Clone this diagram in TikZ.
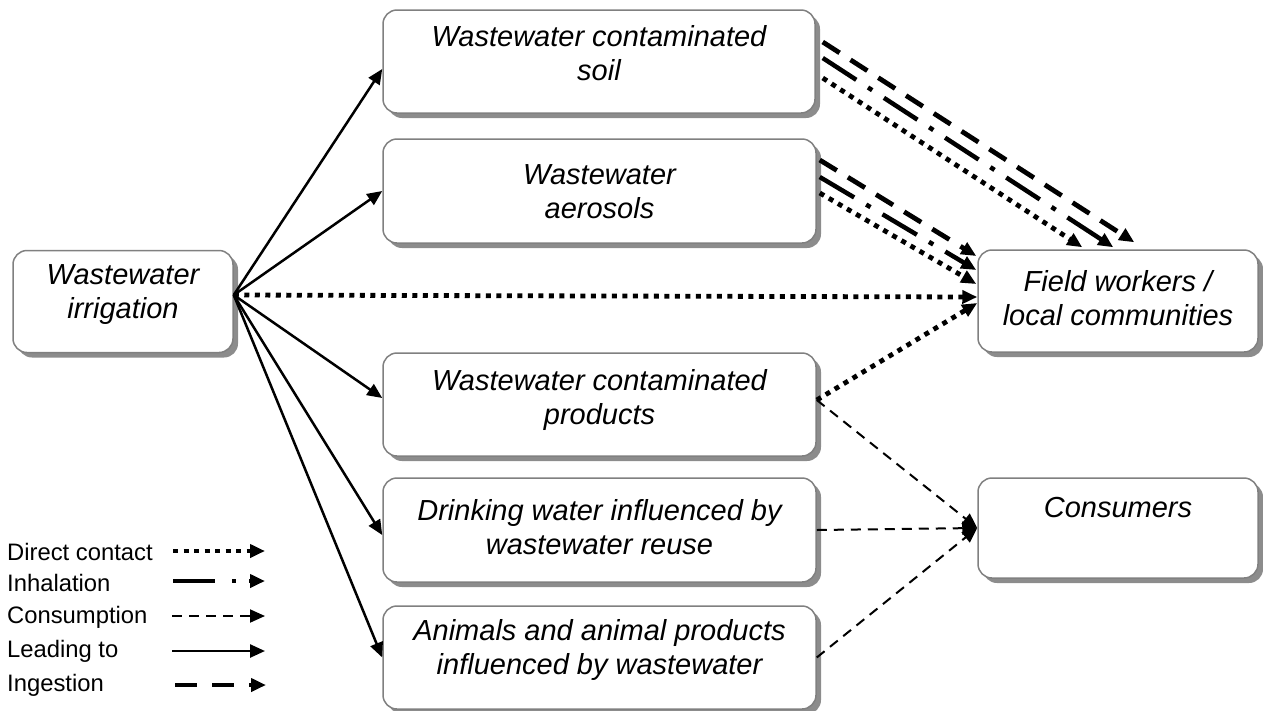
\documentclass[tikz,border=0pt]{standalone}
\usepackage{fontspec}
\setmainfont{Liberation Sans}
\usetikzlibrary{arrows.meta,shadows}
\definecolor{boxline}{RGB}{128,128,128}
\definecolor{boxshade}{RGB}{140,140,140}

\begin{document}
\begin{tikzpicture}[x=1pt,y=-1pt,
  box/.style={draw=boxline, line width=1.5pt, rounded corners=14pt, fill=white,
    drop shadow={shadow xshift=5pt, shadow yshift=-5pt, fill=boxshade, opacity=1}},
  boxtext/.style={align=center, inner sep=0pt,
    font=\fontsize{29pt}{34pt}\selectfont\itshape},
  legtext/.style={anchor=west, inner sep=0pt,
    font=\fontsize{23.8pt}{28pt}\selectfont},
  tip/.style={-{Triangle[length=15pt,width=13pt]}},
  lead/.style={tip, line width=2.5pt},
  direct/.style={tip, line width=4.8pt, dash pattern=on 5pt off 5.5pt},
  inhal/.style={tip, line width=4.5pt, dash pattern=on 40pt off 14pt on 5pt off 14pt},
  ingest/.style={tip, line width=4.8pt, dash pattern=on 20pt off 13pt},
  consume/.style={tip, line width=2pt, dash pattern=on 10pt off 7pt}]

\useasboundingbox (0,0) rectangle (1263,710);

% boxes
\node[box, minimum width=220pt, minimum height=102pt] (irr)   at (123,301.5) {};
\node[box, minimum width=432pt, minimum height=103pt] (soil)  at (599,61.5)  {};
\node[box, minimum width=433pt, minimum height=104pt] (aer)   at (599.5,191) {};
\node[box, minimum width=433pt, minimum height=103pt] (prod)  at (599.5,404.5) {};
\node[box, minimum width=433pt, minimum height=104pt] (drink) at (599.5,530) {};
\node[box, minimum width=433pt, minimum height=103pt] (anim)  at (599.5,657.5) {};
\node[box, minimum width=280pt, minimum height=102pt] (field) at (1118,301) {};
\node[box, minimum width=280pt, minimum height=100pt] (cons)  at (1118,528) {};

% box texts
\node[boxtext] (irrT)   at (123,295)   {Wastewater\\irrigation};
\node[boxtext] (soilT)  at (599,53)    {Wastewater contaminated\\soil};
\node[boxtext] (aerT)   at (599.5,192) {Wastewater\\aerosols};
\node[boxtext] (prodT)  at (599.5,400) {Wastewater contaminated\\products};
\node[boxtext] (drinkT) at (599.5,527) {Drinking water influenced by\\wastewater reuse};
\node[boxtext] (animT)  at (599.5,650) {Animals and animal products\\influenced by wastewater};
\node[boxtext] (fieldT) at (1118,298)  {Field workers /\\local communities};
\node[boxtext] (consT)  at (1118,508)  {Consumers};

% leading to
\draw[lead] ([yshift=6.5pt]irr.east) -- ([yshift=-7.5pt]soil.west);
\draw[lead] ([yshift=6.5pt]irr.east) -- (aer.west);
\draw[lead] ([yshift=6.5pt]irr.east) -- ([yshift=6.5pt]prod.west);
\draw[lead] ([yshift=6.5pt]irr.east) -- ([yshift=-5pt]drink.west);
\draw[lead] ([yshift=6.5pt]irr.east) -- (anim.west);

% direct contact from irrigation
\draw[direct] ([yshift=6.5pt]irr.east) -- ([yshift=4pt]field.west);

% soil to field workers
\draw[ingest] ([xshift=7pt,yshift=19.5pt]soil.east) -- ([xshift=157pt,yshift=7pt]field.north west);
\draw[inhal]  ([xshift=7pt,yshift=3.5pt]soil.east)  -- ([xshift=136pt,yshift=2pt]field.north west);
\draw[direct] ([xshift=7pt,yshift=-16.5pt]soil.east) -- ([xshift=105pt,yshift=2pt]field.north west);

% aerosols to field workers
\draw[ingest] ([xshift=3pt,yshift=31pt]aer.east) -- ([xshift=-1pt,yshift=45pt]field.west);
\draw[inhal]  ([xshift=3pt,yshift=14pt]aer.east) -- ([xshift=-1pt,yshift=31pt]field.west);
\draw[direct] ([xshift=3pt,yshift=-2pt]aer.east) -- ([xshift=-1pt,yshift=17pt]field.west);

% products
\draw[direct]  ([yshift=4.5pt]prod.east) -- ([yshift=-2pt]field.west);
\draw[consume] ([yshift=4.5pt]prod.east) -- (cons.west);

% drinking water and animals to consumers
\draw[consume] (drink.east) -- (cons.west);
\draw[consume] (anim.east) -- (cons.west);

% legend
\node[legtext] (lgA) at (7,552) {Direct contact};
\node[legtext] (lgB) at (7,583) {Inhalation};
\node[legtext] (lgC) at (7,617) {Consumption};
\node[legtext] (lgD) at (7,651) {Leading to};
\node[legtext] (lgE) at (7,685) {Ingestion};

\coordinate (lgA0) at (173,551); \coordinate (lgA1) at (265,551);
\coordinate (lgB0) at (173,581); \coordinate (lgB1) at (265,581);
\coordinate (lgC0) at (172,616); \coordinate (lgC1) at (265,616);
\coordinate (lgD0) at (172,651); \coordinate (lgD1) at (265,651);
\coordinate (lgE0) at (175,685); \coordinate (lgE1) at (266,685);

\draw[direct] (lgA0) -- (lgA1);
\draw[tip, line width=4.5pt, dash pattern=on 42pt off 17pt on 4pt off 13pt] (lgB0) -- (lgB1);
\draw[consume] (lgC0) -- (lgC1);
\draw[lead] (lgD0) -- (lgD1);
\draw[tip, line width=4.8pt, dash pattern=on 22pt off 15pt] (lgE0) -- (lgE1);
\end{tikzpicture}
\end{document}
